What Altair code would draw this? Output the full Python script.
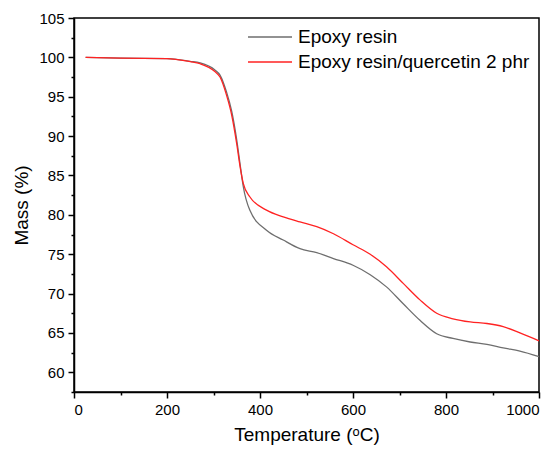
import altair as alt
import pandas as pd

temps = [25, 100, 200, 250, 271, 303, 314, 328, 339, 350, 357, 364, 378, 414, 450, 486, 522, 558, 600, 637, 672, 708, 744, 780, 815, 852, 888, 923, 959, 1000]
epoxy = [100.0, 99.9, 99.85, 99.5, 99.3, 98.4, 97.75, 95.6, 93.2, 89.5, 86.5, 83.6, 80.6, 78.05, 76.8, 75.7, 75.2, 74.45, 73.6, 72.4, 70.85, 68.7, 66.6, 64.9, 64.3, 63.85, 63.55, 63.1, 62.7, 62.0]
quercetin = [100.0, 99.9, 99.85, 99.45, 99.2, 98.2, 97.5, 95.2, 92.7, 89.0, 86.2, 84.0, 82.3, 80.6, 79.75, 79.1, 78.5, 77.6, 76.2, 75.0, 73.4, 71.3, 69.2, 67.5, 66.8, 66.4, 66.2, 65.8, 65.0, 64.0]
series = ["Epoxy resin", "Epoxy resin/quercetin 2 phr"]
colors = ["#6e6e6e", "#ff2222"]

x_ticks = list(range(0, 1001, 100))
y_ticks = [57.5 + 2.5 * i for i in range(20)]

df = pd.concat([
    pd.DataFrame({"T": temps, "M": epoxy, "s": series[0]}),
    pd.DataFrame({"T": temps, "M": quercetin, "s": series[1]}),
])

FONT = "Liberation Sans"

lines = alt.Chart(df).mark_line(strokeWidth=1.3, interpolate="monotone").encode(
    x=alt.X("T:Q", scale=alt.Scale(domain=[0, 1000], nice=False, zero=False),
            axis=alt.Axis(values=x_ticks, title="Temperature (ᵒC)", format="d",
                          labelExpr="datum.value % 200 === 0 ? datum.label : ''",
                          tickSize={"condition": {"test": "datum.value % 200 === 0", "value": 6}, "value": 3},
                          grid=False)),
    y=alt.Y("M:Q", scale=alt.Scale(domain=[57.5, 105], nice=False, zero=False),
            axis=alt.Axis(values=y_ticks, title="Mass (%)",
                          labelExpr="datum.value % 5 === 0 ? datum.label : ''",
                          tickSize={"condition": {"test": "datum.value % 5 === 0", "value": 6}, "value": 3},
                          grid=False)),
    color=alt.Color("s:N", scale=alt.Scale(domain=series, range=colors), legend=None),
)

legend_layers = []
for i, (name, col) in enumerate(zip(series, colors)):
    yy = 19 + 25 * i
    one = pd.DataFrame({"s": [name]})
    legend_layers.append(
        alt.Chart(one).mark_rule(strokeWidth=1.3, color=col).encode(
            x=alt.value(174), x2=alt.value(218), y=alt.value(yy))
    )
    legend_layers.append(
        alt.Chart(one).mark_text(font=FONT, fontSize=19, align="left",
                                 baseline="middle", color="black").encode(
            text="s:N", x=alt.value(224), y=alt.value(yy))
    )

chart = alt.layer(lines, *legend_layers).properties(
    width=465, height=374,
    autosize=alt.AutoSizeParams(type="none"),
    padding={"left": 66, "top": 10, "right": 8, "bottom": 56},
).configure_view(
    stroke="black", strokeWidth=1.5
).configure_axis(
    domainColor="black", domainWidth=1.5, tickColor="black", tickWidth=1.5,
    labelFont=FONT, labelFontSize=15, labelColor="black", labelPadding=4,
    titleFont=FONT, titleFontSize=19, titleFontWeight="normal", titleColor="black",
).configure_axisX(titlePadding=8).configure_axisY(titlePadding=7)

chart.save("out.html", embed_options={"renderer": "svg", "actions": False})
